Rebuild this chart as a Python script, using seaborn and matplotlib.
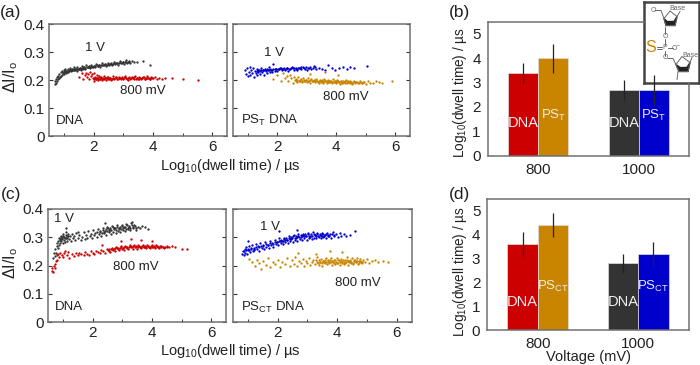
import pandas as pd
import matplotlib
matplotlib.use('Agg')
import matplotlib.pyplot as plt
import seaborn as sns
from matplotlib.patches import Polygon
from matplotlib.ticker import MultipleLocator

sns.set_style('white')
plt.rcParams['font.family'] = ['Liberation Sans', 'DejaVu Sans']
plt.rcParams['mathtext.default'] = 'regular'

W, H = 700, 365
RED, GOLD, BLACK, BLUE = '#cc0000', '#c98500', '#333333', '#0000cc'
SPINE = '#707070'
TICK = '#333333'
TXT = '#222222'

# panel (a) DNA
a_1v_x = [0.70, 0.71, 0.73, 0.74, 0.76, 0.78, 0.79, 0.81, 0.83, 0.85, 0.87, 0.89, 0.91, 0.93, 0.95, 0.97, 0.99, 1.01, 1.03, 1.05, 1.08, 1.10, 1.13, 1.15, 1.18, 1.21, 1.24, 1.27, 1.30, 1.33, 1.36, 1.39, 1.43, 1.46, 1.50, 1.53, 1.57, 1.60, 1.64, 1.68, 1.72, 1.76, 1.80, 1.84, 1.88, 1.92, 1.96, 2.00, 2.05, 2.09, 2.14, 2.18, 2.23, 2.28, 2.33, 2.38, 2.43, 2.48, 2.53, 2.58, 2.63, 2.68, 2.73, 2.78, 2.83, 2.88, 2.93, 2.98, 3.03, 3.08, 3.13, 3.18, 3.24, 3.30, 3.37, 3.46, 3.68, 3.90]
a_1v_y = [0.187, 0.197, 0.191, 0.204, 0.198, 0.210, 0.202, 0.214, 0.207, 0.222, 0.211, 0.228, 0.216, 0.232, 0.219, 0.226, 0.236, 0.221, 0.232, 0.238, 0.226, 0.233, 0.240, 0.228, 0.237, 0.243, 0.231, 0.239, 0.234, 0.245, 0.236, 0.241, 0.233, 0.246, 0.239, 0.243, 0.237, 0.249, 0.241, 0.246, 0.240, 0.252, 0.245, 0.249, 0.243, 0.254, 0.247, 0.251, 0.245, 0.256, 0.250, 0.253, 0.248, 0.259, 0.252, 0.256, 0.250, 0.261, 0.255, 0.258, 0.253, 0.264, 0.257, 0.260, 0.255, 0.267, 0.259, 0.263, 0.258, 0.270, 0.262, 0.266, 0.262, 0.268, 0.265, 0.266, 0.267, 0.255]
a_1v_core_x = [0.96, 1.00, 1.04, 1.07, 1.11, 1.14, 1.17, 1.20, 1.23, 1.26, 1.29, 1.32, 1.35, 1.38, 1.41, 1.44, 1.47, 1.51, 1.54, 1.58, 1.61, 1.65, 1.69, 1.73, 1.77, 1.81, 1.85, 1.89, 1.93, 1.97, 2.02, 2.06, 2.11, 2.16, 2.20, 2.25, 2.30, 2.35, 2.40, 2.45, 2.50, 2.55, 2.60, 2.65, 2.70, 2.75, 2.80, 2.85, 2.90, 2.95, 3.00, 3.05, 3.10, 3.15, 3.20]
a_1v_core_y = [0.226, 0.229, 0.228, 0.231, 0.230, 0.233, 0.232, 0.235, 0.234, 0.236, 0.235, 0.238, 0.237, 0.239, 0.238, 0.240, 0.241, 0.240, 0.242, 0.241, 0.244, 0.243, 0.245, 0.244, 0.247, 0.246, 0.248, 0.247, 0.249, 0.248, 0.250, 0.249, 0.252, 0.251, 0.253, 0.252, 0.255, 0.254, 0.256, 0.255, 0.258, 0.257, 0.259, 0.258, 0.261, 0.260, 0.262, 0.261, 0.263, 0.262, 0.264, 0.264, 0.266, 0.265, 0.267]
a_800_x = [1.52, 1.60, 1.65, 1.70, 1.74, 1.78, 1.82, 1.85, 1.88, 1.91, 1.94, 1.97, 2.00, 2.03, 2.06, 2.08, 2.11, 2.13, 2.16, 2.19, 2.22, 2.26, 2.30, 2.34, 2.38, 2.42, 2.46, 2.50, 2.55, 2.60, 2.65, 2.70, 2.75, 2.80, 2.85, 2.90, 2.95, 3.00, 3.05, 3.10, 3.15, 3.20, 3.25, 3.30, 3.35, 3.40, 3.45, 3.50, 3.55, 3.60, 3.65, 3.70, 3.75, 3.80, 3.85, 3.90, 3.95, 4.00, 4.06, 4.14, 4.22, 4.32, 4.42, 4.65, 5.02, 5.52]
a_800_y = [0.212, 0.224, 0.205, 0.218, 0.226, 0.210, 0.220, 0.203, 0.228, 0.214, 0.221, 0.208, 0.198, 0.226, 0.212, 0.202, 0.219, 0.207, 0.199, 0.215, 0.204, 0.210, 0.201, 0.213, 0.206, 0.200, 0.211, 0.204, 0.208, 0.201, 0.213, 0.205, 0.209, 0.202, 0.212, 0.206, 0.210, 0.203, 0.214, 0.207, 0.201, 0.211, 0.206, 0.209, 0.203, 0.213, 0.207, 0.205, 0.211, 0.202, 0.208, 0.210, 0.205, 0.214, 0.207, 0.204, 0.210, 0.206, 0.209, 0.204, 0.207, 0.203, 0.206, 0.207, 0.205, 0.200]
a_800_core_x = [2.02, 2.05, 2.09, 2.12, 2.15, 2.18, 2.21, 2.24, 2.28, 2.32, 2.36, 2.40, 2.44, 2.48, 2.52, 2.57, 2.62, 2.67, 2.72, 2.77, 2.82, 2.87, 2.92, 2.97, 3.02, 3.07, 3.12, 3.17, 3.22, 3.27, 3.32, 3.37, 3.42, 3.47, 3.52, 3.57, 3.62, 3.67, 3.72, 3.77, 3.82, 3.87, 3.92, 3.97]
a_800_core_y = [0.205, 0.208, 0.204, 0.207, 0.205, 0.209, 0.204, 0.207, 0.205, 0.208, 0.204, 0.207, 0.206, 0.209, 0.205, 0.207, 0.204, 0.208, 0.206, 0.209, 0.205, 0.207, 0.204, 0.208, 0.206, 0.209, 0.205, 0.207, 0.204, 0.208, 0.206, 0.209, 0.205, 0.207, 0.204, 0.208, 0.206, 0.209, 0.205, 0.207, 0.206, 0.208, 0.205, 0.207]

# panel (a) PS_T DNA
a2_1v_x = [0.90, 0.94, 0.97, 1.00, 1.03, 1.06, 1.09, 1.12, 1.15, 1.18, 1.21, 1.24, 1.27, 1.30, 1.33, 1.36, 1.39, 1.42, 1.45, 1.48, 1.52, 1.55, 1.58, 1.62, 1.65, 1.68, 1.72, 1.75, 1.79, 1.83, 1.87, 1.91, 1.95, 2.00, 2.05, 2.10, 2.15, 2.20, 2.26, 2.32, 2.38, 2.44, 2.50, 2.56, 2.62, 2.68, 2.74, 2.80, 2.87, 2.94, 3.01, 3.08, 3.16, 3.24, 3.32, 3.42, 3.52, 3.62, 3.72, 3.84, 3.95, 4.08, 4.22, 4.36, 4.48, 4.60, 5.05]
a2_1v_y = [0.234, 0.222, 0.242, 0.214, 0.230, 0.245, 0.219, 0.236, 0.226, 0.243, 0.212, 0.233, 0.224, 0.240, 0.218, 0.230, 0.236, 0.222, 0.243, 0.228, 0.235, 0.219, 0.241, 0.231, 0.225, 0.237, 0.246, 0.230, 0.236, 0.227, 0.258, 0.233, 0.240, 0.232, 0.238, 0.244, 0.234, 0.240, 0.236, 0.243, 0.232, 0.239, 0.245, 0.236, 0.241, 0.234, 0.243, 0.238, 0.246, 0.240, 0.237, 0.244, 0.240, 0.249, 0.239, 0.244, 0.241, 0.237, 0.254, 0.243, 0.236, 0.244, 0.248, 0.241, 0.247, 0.243, 0.249]
a2_1v_core_x = [1.30, 1.36, 1.41, 1.46, 1.51, 1.56, 1.61, 1.66, 1.71, 1.76, 1.81, 1.86, 1.91, 1.96, 2.02, 2.07, 2.12, 2.17, 2.22, 2.28, 2.34, 2.40, 2.46, 2.52, 2.58, 2.64, 2.70, 2.76, 2.82, 2.90, 2.97, 3.05, 3.12, 3.20, 3.28]
a2_1v_core_y = [0.232, 0.235, 0.233, 0.236, 0.234, 0.237, 0.235, 0.238, 0.236, 0.239, 0.237, 0.240, 0.238, 0.239, 0.241, 0.239, 0.242, 0.240, 0.242, 0.241, 0.243, 0.241, 0.243, 0.242, 0.244, 0.242, 0.244, 0.243, 0.245, 0.243, 0.245, 0.244, 0.246, 0.244, 0.245]
a2_800_x = [1.85, 2.00, 2.12, 2.20, 2.26, 2.32, 2.38, 2.43, 2.48, 2.52, 2.56, 2.60, 2.64, 2.68, 2.72, 2.76, 2.80, 2.84, 2.88, 2.92, 2.96, 3.00, 3.04, 3.08, 3.12, 3.16, 3.20, 3.24, 3.28, 3.32, 3.36, 3.40, 3.44, 3.48, 3.52, 3.56, 3.60, 3.64, 3.68, 3.72, 3.76, 3.80, 3.84, 3.88, 3.92, 3.96, 4.00, 4.04, 4.08, 4.12, 4.16, 4.20, 4.24, 4.28, 4.32, 4.36, 4.40, 4.45, 4.50, 4.55, 4.60, 4.65, 4.70, 4.76, 4.82, 4.88, 4.94, 5.00, 5.08, 5.16, 5.24, 5.34, 5.44, 5.56, 5.90, 3.10, 3.62, 4.05]
a2_800_y = [0.205, 0.218, 0.198, 0.226, 0.206, 0.215, 0.196, 0.219, 0.208, 0.191, 0.212, 0.199, 0.205, 0.194, 0.209, 0.198, 0.203, 0.192, 0.207, 0.197, 0.201, 0.193, 0.206, 0.198, 0.190, 0.203, 0.195, 0.200, 0.192, 0.205, 0.197, 0.190, 0.201, 0.194, 0.199, 0.191, 0.203, 0.196, 0.189, 0.200, 0.193, 0.197, 0.188, 0.202, 0.194, 0.198, 0.190, 0.200, 0.193, 0.187, 0.197, 0.191, 0.195, 0.188, 0.199, 0.192, 0.196, 0.189, 0.194, 0.187, 0.197, 0.191, 0.193, 0.188, 0.196, 0.190, 0.192, 0.187, 0.195, 0.189, 0.191, 0.197, 0.193, 0.190, 0.195, 0.223, 0.229, 0.217]
a2_800_core_x = [2.62, 2.67, 2.73, 2.78, 2.83, 2.89, 2.94, 2.99, 3.05, 3.11, 3.17, 3.22, 3.27, 3.33, 3.38, 3.43, 3.47, 3.51, 3.55, 3.59, 3.63, 3.67, 3.71, 3.75, 3.79, 3.83, 3.87, 3.91, 3.95, 3.99, 4.03, 4.07, 4.11, 4.15, 4.19, 4.23, 4.27, 4.31, 4.35, 4.39, 4.43, 4.48, 4.53, 4.58, 4.63, 4.68, 4.74, 4.80, 4.86, 4.92]
a2_800_core_y = [0.198, 0.201, 0.197, 0.200, 0.196, 0.199, 0.197, 0.200, 0.196, 0.199, 0.195, 0.198, 0.196, 0.199, 0.194, 0.197, 0.195, 0.198, 0.193, 0.197, 0.195, 0.198, 0.193, 0.196, 0.194, 0.197, 0.192, 0.195, 0.193, 0.196, 0.192, 0.195, 0.193, 0.196, 0.191, 0.194, 0.192, 0.195, 0.191, 0.194, 0.192, 0.195, 0.191, 0.193, 0.192, 0.194, 0.190, 0.193, 0.191, 0.193]

# panel (c) DNA
c_1v_x = [0.68, 0.71, 0.73, 0.75, 0.77, 0.79, 0.81, 0.83, 0.85, 0.87, 0.89, 0.91, 0.93, 0.95, 0.97, 0.99, 1.01, 1.03, 1.05, 1.07, 1.09, 1.11, 1.13, 1.15, 1.17, 1.20, 1.23, 1.26, 1.30, 1.34, 1.38, 1.42, 1.46, 1.50, 1.55, 1.60, 1.65, 1.70, 1.74, 1.78, 1.82, 1.86, 1.90, 1.94, 1.98, 2.02, 2.06, 2.10, 2.14, 2.18, 2.22, 2.26, 2.30, 2.34, 2.38, 2.42, 2.46, 2.50, 2.54, 2.58, 2.62, 2.66, 2.70, 2.74, 2.78, 2.82, 2.86, 2.90, 2.94, 2.98, 3.02, 3.06, 3.10, 3.14, 3.18, 3.22, 3.26, 3.30, 3.35, 3.40, 3.46, 3.52, 3.60, 3.68, 3.78, 3.88, 1.12, 1.50, 2.42, 3.32]
c_1v_y = [0.228, 0.245, 0.235, 0.258, 0.246, 0.268, 0.279, 0.262, 0.288, 0.272, 0.295, 0.281, 0.305, 0.287, 0.298, 0.279, 0.312, 0.291, 0.302, 0.284, 0.319, 0.296, 0.306, 0.288, 0.312, 0.293, 0.303, 0.287, 0.312, 0.296, 0.305, 0.289, 0.314, 0.297, 0.307, 0.291, 0.302, 0.317, 0.295, 0.309, 0.299, 0.321, 0.303, 0.312, 0.298, 0.325, 0.307, 0.316, 0.302, 0.329, 0.310, 0.319, 0.305, 0.333, 0.314, 0.323, 0.309, 0.337, 0.317, 0.327, 0.313, 0.340, 0.320, 0.331, 0.316, 0.343, 0.323, 0.334, 0.319, 0.345, 0.326, 0.337, 0.321, 0.347, 0.328, 0.339, 0.324, 0.349, 0.331, 0.342, 0.327, 0.338, 0.332, 0.341, 0.336, 0.329, 0.333, 0.320, 0.352, 0.355]
c_1v_core_x = [0.86, 0.90, 0.94, 0.98, 1.02, 1.06, 1.10, 1.14, 1.18, 2.16, 2.24, 2.32, 2.36, 2.40, 2.44, 2.48, 2.52, 2.56, 2.60, 2.64, 2.68, 2.72, 2.76, 2.80, 2.84, 2.88, 2.92, 2.96, 3.00, 3.04, 3.08, 3.12, 3.16, 3.20, 3.24, 3.28, 3.32, 3.37, 3.42, 3.48]
c_1v_core_y = [0.297, 0.290, 0.301, 0.293, 0.305, 0.296, 0.308, 0.299, 0.303, 0.318, 0.321, 0.316, 0.326, 0.320, 0.329, 0.322, 0.331, 0.324, 0.334, 0.326, 0.337, 0.328, 0.332, 0.326, 0.338, 0.330, 0.335, 0.328, 0.341, 0.332, 0.337, 0.329, 0.342, 0.333, 0.338, 0.331, 0.344, 0.335, 0.340, 0.334]
c_800_x = [0.62, 0.65, 0.68, 0.70, 0.72, 0.74, 0.76, 0.79, 0.82, 0.85, 0.88, 0.92, 0.96, 1.00, 1.04, 1.08, 1.13, 1.18, 1.22, 1.30, 1.36, 1.44, 1.50, 1.56, 1.62, 1.70, 1.76, 1.82, 1.88, 1.94, 2.00, 2.06, 2.12, 2.18, 2.24, 2.30, 2.36, 2.42, 2.48, 2.54, 2.60, 2.65, 2.70, 2.75, 2.80, 2.85, 2.90, 2.95, 3.00, 3.05, 3.10, 3.15, 3.20, 3.25, 3.30, 3.35, 3.40, 3.45, 3.50, 3.55, 3.60, 3.65, 3.70, 3.75, 3.80, 3.85, 3.90, 3.95, 4.00, 4.05, 4.10, 4.15, 4.20, 4.25, 4.30, 4.36, 4.42, 4.50, 4.58, 4.68, 4.78, 5.00, 5.18, 2.95, 3.30, 3.62, 4.00, 2.32]
c_800_y = [0.182, 0.192, 0.178, 0.198, 0.207, 0.190, 0.216, 0.236, 0.220, 0.241, 0.229, 0.245, 0.236, 0.231, 0.243, 0.252, 0.237, 0.247, 0.226, 0.240, 0.233, 0.243, 0.237, 0.246, 0.240, 0.236, 0.248, 0.242, 0.238, 0.251, 0.245, 0.241, 0.253, 0.247, 0.243, 0.256, 0.250, 0.246, 0.258, 0.253, 0.249, 0.262, 0.255, 0.251, 0.264, 0.258, 0.254, 0.268, 0.260, 0.256, 0.270, 0.262, 0.258, 0.272, 0.264, 0.259, 0.271, 0.266, 0.260, 0.273, 0.266, 0.261, 0.272, 0.267, 0.262, 0.273, 0.267, 0.263, 0.271, 0.266, 0.262, 0.272, 0.267, 0.263, 0.270, 0.266, 0.262, 0.269, 0.265, 0.268, 0.264, 0.257, 0.258, 0.285, 0.294, 0.290, 0.287, 0.272]
c_800_core_x = [2.52, 2.57, 2.62, 2.67, 2.72, 2.77, 2.82, 2.87, 2.92, 2.97, 3.02, 3.07, 3.12, 3.17, 3.22, 3.27, 3.32, 3.37, 3.42, 3.47, 3.52, 3.57, 3.62, 3.67, 3.72, 3.77, 3.82, 3.87, 3.92, 3.97, 4.02, 4.07, 4.12, 4.17, 4.22, 4.27, 4.32, 4.38, 4.44, 4.52]
c_800_core_y = [0.255, 0.258, 0.257, 0.260, 0.259, 0.262, 0.261, 0.263, 0.262, 0.265, 0.263, 0.266, 0.264, 0.267, 0.265, 0.268, 0.265, 0.268, 0.266, 0.268, 0.265, 0.269, 0.266, 0.268, 0.265, 0.269, 0.266, 0.268, 0.265, 0.269, 0.266, 0.268, 0.265, 0.268, 0.266, 0.268, 0.265, 0.267, 0.266, 0.267]

# panel (c) PS_CT DNA
c2_1v_x = [0.80, 0.83, 0.86, 0.89, 0.92, 0.95, 0.98, 1.01, 1.04, 1.07, 1.10, 1.13, 1.16, 1.19, 1.22, 1.26, 1.30, 1.34, 1.38, 1.42, 1.46, 1.50, 1.54, 1.58, 1.62, 1.66, 1.70, 1.74, 1.78, 1.82, 1.86, 1.90, 1.94, 1.98, 2.02, 2.06, 2.10, 2.14, 2.18, 2.22, 2.26, 2.30, 2.34, 2.38, 2.42, 2.46, 2.50, 2.54, 2.58, 2.62, 2.66, 2.70, 2.74, 2.78, 2.82, 2.86, 2.90, 2.94, 2.98, 3.02, 3.06, 3.10, 3.14, 3.18, 3.22, 3.26, 3.30, 3.34, 3.38, 3.42, 3.46, 3.50, 3.54, 3.58, 3.62, 3.66, 3.70, 3.75, 3.80, 3.85, 3.90, 3.96, 4.02, 4.08, 4.14, 4.22, 4.30, 4.42, 4.60, 1.02, 2.05, 2.65]
c2_1v_y = [0.242, 0.251, 0.238, 0.258, 0.246, 0.264, 0.240, 0.254, 0.268, 0.247, 0.260, 0.272, 0.250, 0.263, 0.256, 0.275, 0.259, 0.268, 0.253, 0.279, 0.263, 0.271, 0.258, 0.282, 0.267, 0.274, 0.262, 0.286, 0.271, 0.278, 0.265, 0.291, 0.276, 0.283, 0.272, 0.297, 0.280, 0.287, 0.275, 0.299, 0.284, 0.291, 0.279, 0.304, 0.287, 0.295, 0.283, 0.308, 0.290, 0.298, 0.286, 0.310, 0.293, 0.301, 0.289, 0.313, 0.296, 0.303, 0.292, 0.315, 0.298, 0.305, 0.294, 0.317, 0.299, 0.307, 0.296, 0.316, 0.300, 0.308, 0.297, 0.315, 0.301, 0.309, 0.298, 0.316, 0.303, 0.310, 0.299, 0.318, 0.304, 0.311, 0.300, 0.316, 0.306, 0.312, 0.303, 0.308, 0.322, 0.285, 0.322, 0.327]
c2_1v_core_x = [0.88, 0.93, 0.99, 1.05, 1.12, 1.20, 1.28, 1.36, 1.44, 1.52, 1.60, 1.68, 1.76, 1.84, 1.92, 1.99, 2.04, 2.09, 2.13, 2.17, 2.21, 2.25, 2.29, 2.33, 2.37, 2.41, 2.45, 2.49, 2.53, 2.57, 2.61, 2.65, 2.69, 2.73, 2.77, 2.81, 2.85, 2.89, 2.93, 2.97, 3.01, 3.05, 3.09, 3.13, 3.17, 3.21, 3.25, 3.29, 3.33, 3.37, 3.41, 3.45, 3.49, 3.53, 3.57, 3.62, 3.68, 3.74, 3.82, 3.90]
c2_1v_core_y = [0.250, 0.254, 0.259, 0.256, 0.263, 0.260, 0.267, 0.265, 0.270, 0.268, 0.275, 0.272, 0.280, 0.277, 0.284, 0.282, 0.288, 0.285, 0.292, 0.288, 0.294, 0.290, 0.296, 0.292, 0.299, 0.294, 0.301, 0.296, 0.303, 0.298, 0.305, 0.300, 0.306, 0.302, 0.308, 0.303, 0.309, 0.304, 0.310, 0.305, 0.311, 0.306, 0.302, 0.310, 0.305, 0.312, 0.307, 0.303, 0.311, 0.306, 0.313, 0.307, 0.303, 0.311, 0.306, 0.313, 0.307, 0.304, 0.312, 0.308]
c2_800_x = [1.05, 1.15, 1.24, 1.32, 1.38, 1.45, 1.52, 1.60, 1.68, 1.75, 1.84, 1.92, 2.00, 2.08, 2.16, 2.25, 2.32, 2.40, 2.47, 2.54, 2.60, 2.66, 2.72, 2.78, 2.84, 2.90, 2.95, 3.00, 3.05, 3.10, 3.15, 3.20, 3.25, 3.30, 3.34, 3.38, 3.42, 3.46, 3.50, 3.54, 3.58, 3.62, 3.66, 3.70, 3.74, 3.78, 3.82, 3.86, 3.90, 3.94, 3.98, 4.02, 4.06, 4.10, 4.14, 4.18, 4.22, 4.26, 4.30, 4.34, 4.38, 4.42, 4.46, 4.50, 4.54, 4.58, 4.62, 4.66, 4.70, 4.74, 4.78, 4.82, 4.88, 4.94, 5.00, 5.08, 5.16, 5.26, 5.38, 5.55, 5.72, 2.70, 3.30, 4.18, 3.75]
c2_800_y = [0.224, 0.212, 0.198, 0.221, 0.208, 0.189, 0.217, 0.203, 0.226, 0.194, 0.212, 0.204, 0.220, 0.196, 0.212, 0.205, 0.226, 0.198, 0.218, 0.207, 0.229, 0.200, 0.215, 0.209, 0.224, 0.198, 0.216, 0.208, 0.226, 0.202, 0.214, 0.221, 0.205, 0.218, 0.231, 0.203, 0.212, 0.224, 0.199, 0.216, 0.208, 0.227, 0.204, 0.218, 0.211, 0.225, 0.201, 0.214, 0.221, 0.206, 0.228, 0.209, 0.218, 0.202, 0.224, 0.212, 0.206, 0.220, 0.214, 0.229, 0.203, 0.217, 0.210, 0.225, 0.205, 0.219, 0.212, 0.226, 0.207, 0.216, 0.222, 0.209, 0.218, 0.212, 0.224, 0.209, 0.216, 0.219, 0.213, 0.217, 0.214, 0.246, 0.241, 0.249, 0.253]
c2_800_core_x = [3.32, 3.36, 3.40, 3.44, 3.48, 3.52, 3.56, 3.60, 3.64, 3.68, 3.72, 3.76, 3.80, 3.84, 3.88, 3.92, 3.96, 4.00, 4.04, 4.08, 4.12, 4.16, 4.20, 4.24, 4.28, 4.32, 4.36, 4.40, 4.44, 4.48, 4.52, 4.56, 4.60, 4.64, 4.68, 4.72, 4.76, 4.80, 4.85]
c2_800_core_y = [0.214, 0.210, 0.218, 0.213, 0.209, 0.217, 0.212, 0.220, 0.211, 0.215, 0.208, 0.219, 0.213, 0.216, 0.210, 0.218, 0.214, 0.209, 0.220, 0.212, 0.216, 0.210, 0.218, 0.213, 0.209, 0.220, 0.215, 0.211, 0.218, 0.213, 0.209, 0.216, 0.220, 0.212, 0.217, 0.210, 0.215, 0.212, 0.214]

# bar panels
voltages = ['800', '1000']
b_dna = [3.4, 2.7]
b_pst = [4.0, 2.7]
b_dna_err = [0.4, 0.4]
b_pst_err = [0.6, 0.6]
d_dna = [3.6, 2.8]
d_psct = [4.4, 3.2]
d_dna_err = [0.5, 0.4]
d_psct_err = [0.5, 0.5]


def px_axes(x0, x1, y0, y1, **kw):
    # position given in pixels from the top left corner
    return plt.gcf().add_axes([x0 / W, 1 - y1 / H, (x1 - x0) / W, (y1 - y0) / H], **kw)


def style_axes(ax):
    for s in ax.spines.values():
        s.set_visible(True)
        s.set_color(SPINE)
        s.set_linewidth(1.1)
    ax.tick_params(which='major', direction='in', length=3, width=0.8, color=TICK,
                   labelsize=11, labelcolor=TXT, pad=3)
    ax.tick_params(which='minor', direction='in', length=2, width=0.7, color=TICK)


def scatter_panel(ax, clouds, left=True):
    for x, y, c in clouds:
        sns.scatterplot(x=x, y=y, color=c, s=2.8, linewidth=0, marker='o', ax=ax, legend=False)
    ax.set_xlim(0.5, 6.5)
    ax.set_ylim(0, 0.4)
    ax.xaxis.set_major_locator(MultipleLocator(2))
    ax.xaxis.set_minor_locator(MultipleLocator(1))
    ax.set_yticks([0, 0.1, 0.2, 0.3, 0.4])
    ax.set_yticklabels(['0', '0.1', '0.2', '0.3', '0.4'])
    style_axes(ax)
    ax.set_xlabel('')
    ax.set_ylabel('')
    ax.tick_params(axis='y', which='major', left=True, right=True, labelleft=left)
    ax.tick_params(axis='x', which='both', bottom=True, top=False)


def bar_panel(ax, first, second, first_err, second_err, labels, label_y, colors):
    df = pd.DataFrame({
        'voltage': voltages * 2,
        'value': first + second,
        'kind': ['DNA'] * 2 + ['PS'] * 2,
    })
    sns.barplot(data=df, x='voltage', y='value', hue='kind', width=0.6, gap=0, errorbar=None,
                saturation=1, legend=False, ax=ax, order=voltages,
                palette=[RED, GOLD], edgecolor='#dddddd', linewidth=0.5)
    errs = first_err + second_err
    vals = first + second
    bars = list(ax.containers[0]) + list(ax.containers[1])
    for bar, c, v, e in zip(bars, colors, vals, errs):
        bar.set_facecolor(c)
        ax.errorbar(bar.get_x() + bar.get_width() / 2, v, yerr=e, color='#222222', lw=0.9, capsize=0, zorder=5)
    ax.set_xlim(-0.5, 1.5)
    ax.set_ylim(0, 5.5)
    ax.set_yticks([0, 1, 2, 3, 4, 5])
    ax.set_xticks([0, 1])
    ax.set_xticks([0.5], minor=True)
    style_axes(ax)
    ax.tick_params(axis='y', which='major', direction='out', length=2)
    ax.tick_params(axis='x', which='major', length=0, pad=5)
    ax.set_xlabel('')
    ax.set_ylabel('')
    for bar, lab, yy in zip(bars, labels, label_y):
        ax.text(bar.get_x() + bar.get_width() / 2, yy, lab, ha='center', va='center',
                color='#eeeeee', fontsize=10.5 if lab == 'DNA' else 9.5)


fig = plt.figure(figsize=(7, 3.65), dpi=100)
fig.patch.set_facecolor('white')

# scatter panels
ax_a = px_axes(49, 227, 24, 136)
ax_a2 = px_axes(233, 410, 24, 136)
ax_c = px_axes(48, 226, 209, 322)
ax_c2 = px_axes(233, 411.5, 209, 322)

scatter_panel(ax_a, [(a_1v_x, a_1v_y, BLACK), (a_1v_core_x, a_1v_core_y, BLACK),
                     (a_800_x, a_800_y, RED), (a_800_core_x, a_800_core_y, RED)])
scatter_panel(ax_a2, [(a2_1v_x, a2_1v_y, BLUE), (a2_1v_core_x, a2_1v_core_y, BLUE),
                      (a2_800_x, a2_800_y, GOLD), (a2_800_core_x, a2_800_core_y, GOLD)], left=False)
scatter_panel(ax_c, [(c_1v_x, c_1v_y, BLACK), (c_1v_core_x, c_1v_core_y, BLACK),
                     (c_800_x, c_800_y, RED), (c_800_core_x, c_800_core_y, RED)])
scatter_panel(ax_c2, [(c2_1v_x, c2_1v_y, BLUE), (c2_1v_core_x, c2_1v_core_y, BLUE),
                      (c2_800_x, c2_800_y, GOLD), (c2_800_core_x, c2_800_core_y, GOLD)], left=False)

for ax, notes in [
    (ax_a, [(2.05, 0.315, '1 V', 'center'), (3.66, 0.16, '800 mV', 'center'), (0.72, 0.055, 'DNA', 'left')]),
    (ax_a2, [(1.9, 0.295, '1 V', 'center'), (4.34, 0.14, '800 mV', 'center'), (0.76, 0.055, 'PS$_{T}$ DNA', 'left')]),
    (ax_c, [(1.04, 0.363, '1 V', 'center'), (3.47, 0.193, '800 mV', 'center'), (0.73, 0.052, 'DNA', 'left')]),
    (ax_c2, [(1.76, 0.337, '1 V', 'center'), (4.7, 0.139, '800 mV', 'center'), (0.77, 0.052, 'PS$_{CT}$ DNA', 'left')]),
]:
    for x, y, s, ha in notes:
        ax.text(x, y, s, ha=ha, va='center', fontsize=9.5, color=TXT)

# bar panels
ax_b = px_axes(487.7, 689.3, 21.7, 155.7, zorder=4)
ax_b.patch.set_alpha(0)
bar_panel(ax_b, b_dna, b_pst, b_dna_err, b_pst_err,
          ['DNA', 'DNA', 'PS$_{T}$', 'PS$_{T}$'], [1.35, 1.35, 1.66, 1.66], [RED, BLACK, GOLD, BLUE])
# the structure inset hides the corner of the frame
ax_b.spines['top'].set_bounds(-0.5, 1.05)
ax_b.spines['right'].set_bounds(0, 2.95)

ax_d = px_axes(487.3, 688.7, 199, 330)
bar_panel(ax_d, d_dna, d_psct, d_dna_err, d_psct_err,
          ['DNA', 'DNA', 'PS$_{CT}$', 'PS$_{CT}$'], [1.17, 1.17, 1.82, 1.82], [RED, BLACK, GOLD, BLUE])

# structure inset, coordinates are pixels inside the box
ins = px_axes(644, 698.5, 1.5, 83, zorder=3)
ins.set_xlim(0, 54.5)
ins.set_ylim(81.5, 0)
ins.set_xticks([])
ins.set_yticks([])
for s in ins.spines.values():
    s.set_visible(True)
    s.set_color('#444444')
    s.set_linewidth(1.8)

GREY = '#666666'
for xs, ys in [
    ([11, 17, 20], [9, 9, 17]),
    ([20, 26, 33, 31, 22, 20], [17, 9.5, 15, 24, 24, 17]),
    ([33, 36], [15, 10]),
    ([21, 21], [25, 32]),
    ([21, 21], [37, 43]),
    ([13, 18], [45, 45]),
    ([13, 18], [47, 47]),
    ([24, 29], [46, 46]),
    ([21, 21], [49, 54]),
    ([24, 29, 32], [57, 57, 63]),
    ([32, 38, 46, 44, 35, 32], [63, 55, 61, 70, 70, 63]),
    ([46, 48], [61, 56]),
    ([34, 33], [70, 78]),
]:
    ins.plot(xs, ys, color=GREY, lw=0.7)
ins.add_patch(Polygon([[20, 17], [22, 24], [31, 24], [33, 15], [30, 20], [23, 20]], color='#222222'))
ins.add_patch(Polygon([[32, 63], [35, 70], [44, 70], [46, 61], [43, 66], [36, 66]], color='#222222'))
for x, y, s, fs, c in [
    (9, 9, 'O', 5, GREY), (33, 7, 'Base', 5, GREY), (21, 34.5, 'O', 5, GREY),
    (21, 46, 'P', 5, GREY), (32, 46, 'O$^{-}$', 5, GREY), (21, 56, 'O', 5, GREY),
    (46, 54, 'Base', 5, GREY), (7, 46, 'S', 11.5, GOLD),
]:
    ins.text(x, y, s, ha='center', va='center', fontsize=fs, color=c)

# shared labels
t = dict(color=TXT, ha='center', va='center')
fig.text(230 / W, 1 - 166 / H, 'Log$_{10}$(dwell time) / µs', fontsize=10.5, **t)
fig.text(230 / W, 1 - 351 / H, 'Log$_{10}$(dwell time) / µs', fontsize=10.5, **t)
fig.text(11 / W, 1 - 77 / H, 'ΔI/I$_{o}$', fontsize=11.5, rotation=90, **t)
fig.text(11 / W, 1 - 263 / H, 'ΔI/I$_{o}$', fontsize=11.5, rotation=90, **t)
fig.text(460 / W, 1 - 93 / H, 'Log$_{10}$(dwell time) / µs', fontsize=9.8, rotation=90, **t)
fig.text(460 / W, 1 - 272 / H, 'Log$_{10}$(dwell time) / µs', fontsize=9.8, rotation=90, **t)
fig.text(588 / W, 1 - 357 / H, 'Voltage (mV)', fontsize=10.5, **t)
for x, y, s in [(11, 13, '(a)'), (459, 13, '(b)'), (11, 195, '(c)'), (459, 195, '(d)')]:
    fig.text(x / W, 1 - y / H, s, fontsize=12.5, **t)

fig.savefig('out.png', dpi=100)
